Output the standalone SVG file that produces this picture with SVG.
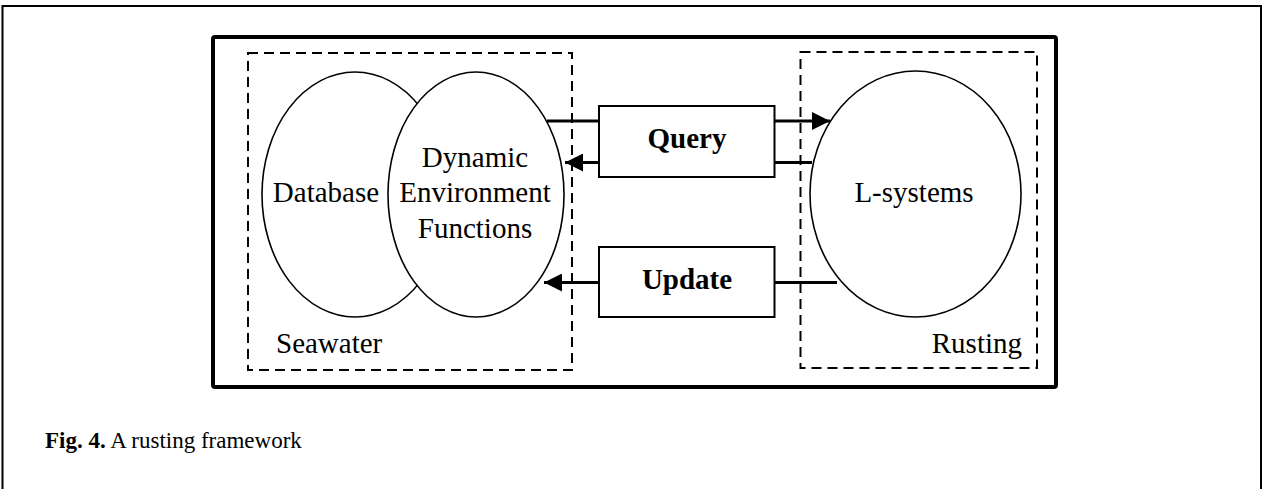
<svg xmlns="http://www.w3.org/2000/svg" width="1270" height="489" viewBox="0 0 1270 489">
<style>
  text { font-family: "Liberation Serif", "Times New Roman", serif; fill: #000; }
  .lbl { font-size: 29px; }
  .bold { font-weight: bold; }
  .ell { fill: #fff; stroke: #000; stroke-width: 1.6; }
  .dash { fill: none; stroke: #000; stroke-width: 2; stroke-dasharray: 10 6; }
  .box { fill: #fff; stroke: #000; stroke-width: 2; }
  .conn { fill: none; stroke: #000; stroke-width: 3; }
  .cap { font-size: 23px; }
</style>
<defs>
  <marker id="ah" markerUnits="userSpaceOnUse" markerWidth="19" markerHeight="18" refX="18" refY="9" orient="auto">
    <path d="M0,0 L18,9 L0,18 z" fill="#000"/>
  </marker>
</defs>
<rect width="1270" height="489" fill="#fff"/>
<rect x="2.5" y="6" width="1258.5" height="500" fill="none" stroke="#000" stroke-width="2"/>
<rect id="frame" x="213" y="37" width="843" height="350" rx="2" fill="none" stroke="#000" stroke-width="4"/>

<g id="seawater">
  <rect x="248" y="53" width="324" height="317" class="dash"/>
  <text x="276" y="353" class="lbl">Seawater</text>
</g>
<g id="rusting">
  <rect x="800.5" y="52" width="236.5" height="316" class="dash"/>
  <text x="1022" y="353" class="lbl" text-anchor="end">Rusting</text>
</g>

<g id="database">
  <ellipse cx="355" cy="194.5" rx="93" ry="122.5" class="ell"/>
  <text x="326" y="202" class="lbl" text-anchor="middle">Database</text>
</g>
<g id="dynamic-environment-functions">
  <ellipse cx="476" cy="194.5" rx="88" ry="122.5" class="ell"/>
  <text x="475" y="167" class="lbl" text-anchor="middle">Dynamic</text>
  <text x="475" y="202" class="lbl" text-anchor="middle">Environment</text>
  <text x="475" y="238" class="lbl" text-anchor="middle">Functions</text>
</g>
<g id="l-systems">
  <ellipse cx="915.5" cy="194" rx="105.5" ry="123" class="ell"/>
  <text x="914" y="202" class="lbl" text-anchor="middle">L-systems</text>
</g>

<g id="query">
  <rect x="599" y="106" width="175.5" height="71" class="box"/>
  <text x="687" y="148" class="lbl bold" text-anchor="middle">Query</text>
</g>
<g id="update">
  <rect x="599" y="247" width="175.5" height="70" class="box"/>
  <text x="687" y="289" class="lbl bold" text-anchor="middle">Update</text>
</g>

<g id="connectors">
  <line x1="547" y1="121" x2="599" y2="121" class="conn"/>
  <line x1="774.5" y1="121" x2="830" y2="121" class="conn" marker-end="url(#ah)"/>
  <line x1="812" y1="162.5" x2="774.5" y2="162.5" class="conn"/>
  <line x1="599" y1="162.5" x2="565" y2="162.5" class="conn" marker-end="url(#ah)"/>
  <line x1="837" y1="282.5" x2="774.5" y2="282.5" class="conn"/>
  <line x1="599" y1="282.5" x2="544" y2="282.5" class="conn" marker-end="url(#ah)"/>
</g>

<text x="45" y="448" class="cap"><tspan class="bold">Fig. 4.</tspan> A rusting framework</text>
</svg>
